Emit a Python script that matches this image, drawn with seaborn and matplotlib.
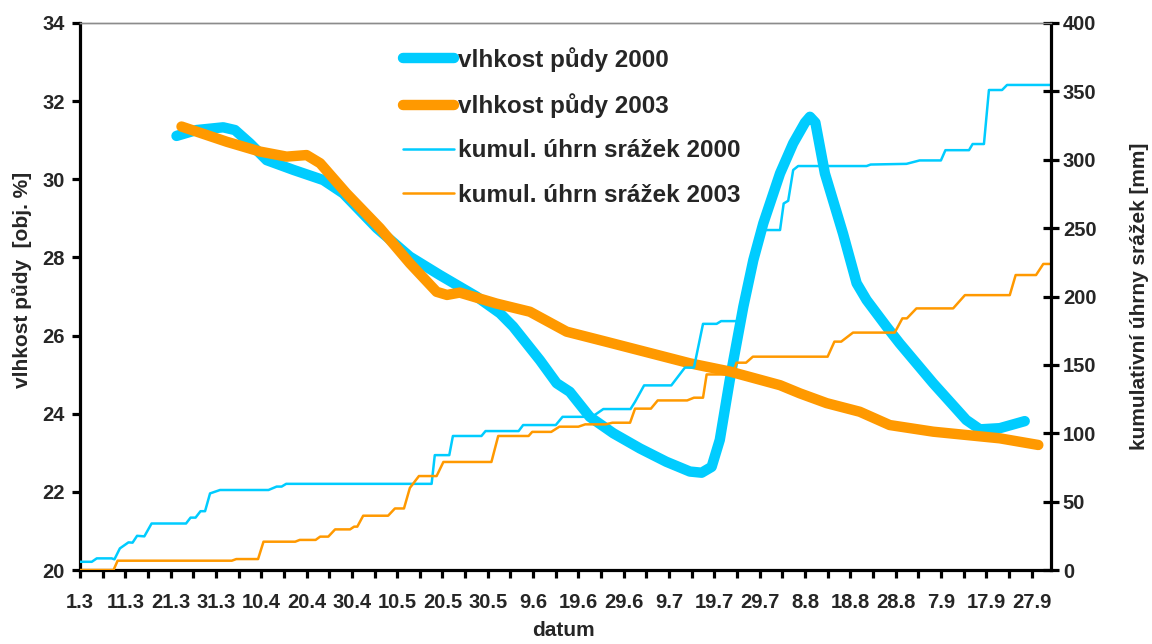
import matplotlib
matplotlib.use("Agg")
import matplotlib.pyplot as plt
import seaborn as sns
from matplotlib.ticker import MultipleLocator

# days counted from 1.3
soil2000_day = [21.3, 25.7, 31.6, 34.2, 37.5, 41.2, 47.1, 53.7, 58.1, 65.5, 72.8, 79.4,
                87.5, 92.7, 95.6, 101.5, 105.2, 108.1, 112.5, 117.7, 123.6, 129.4, 134.6,
                137.2, 139.4, 141.2, 143.4, 146.4, 148.6, 150.8, 154.5, 157.4, 160.0, 161.1,
                162.3, 164.4, 168.4, 171.4, 173.6, 178.0, 180.9, 188.3, 195.6, 198.6, 203.0, 208.5]
soil2000_val = [31.11, 31.26, 31.33, 31.26, 30.92, 30.49, 30.24, 29.98, 29.64, 28.75, 28.02, 27.55,
                27.0, 26.57, 26.23, 25.37, 24.78, 24.56, 23.92, 23.5, 23.11, 22.77, 22.52,
                22.49, 22.64, 23.33, 24.86, 26.74, 27.93, 28.87, 30.15, 30.92, 31.45, 31.6,
                31.45, 30.15, 28.61, 27.34, 26.91, 26.23, 25.8, 24.78, 23.84, 23.6, 23.63, 23.81]

soil2003_day = [22.4, 32.4, 39.7, 45.6, 50.0, 53.0, 58.8, 66.2, 72.8, 78.7, 81.0, 83.8,
                91.9, 99.3, 107.4, 116.2, 134.6, 143.4, 154.5, 158.9, 164.8, 172.1, 178.7,
                188.3, 203.0, 211.5]
soil2003_val = [31.35, 30.96, 30.71, 30.58, 30.62, 30.41, 29.64, 28.75, 27.85, 27.12, 27.04, 27.1,
                26.82, 26.61, 26.1, 25.84, 25.29, 25.08, 24.73, 24.52, 24.27, 24.05, 23.71,
                23.54, 23.37, 23.2]

rain2000_day = [0, 2.6, 3.7, 7.0, 7.6, 8.8, 10.7, 11.6, 12.6, 14.2, 15.8, 23.4, 24.4, 25.5,
                26.6, 27.6, 28.7, 30.9, 41.6, 43.4, 44.5, 45.5, 77.6, 78.3, 81.5, 82.3, 88.6,
                89.5, 96.8, 97.8, 105.0, 106.5, 113.0, 115.5, 121.5, 122.5, 124.5, 130.5,
                133.5, 135.5, 137.5, 140.5, 141.5, 145.6, 148.2, 149.7, 154.5, 155.3, 156.3,
                157.4, 158.5, 173.6, 174.5, 182.4, 185.3, 190.0, 191.0, 196.2, 197.0, 199.5,
                200.6, 203.5, 204.6, 214.3]
rain2000_mm = [6, 6, 8.5, 8.5, 7.8, 15.8, 20.2, 20, 25, 24.6, 34, 34, 38.3, 38.3,
               43, 43, 56, 58.5, 58.5, 61, 61, 63, 63, 84, 84, 98, 98,
               101.6, 101.6, 106, 106, 112, 112, 117.7, 117.7, 123, 135, 135,
               148, 148, 180, 180, 182, 182, 218, 248.6, 248.6, 268, 270,
               292.5, 295.4, 295.4, 296.5, 297, 299.5, 299.5, 307, 307, 311.5, 311.5,
               351, 351, 354.7, 354.7]

rain2003_day = [0, 7.4, 8.3, 33.5, 34.5, 39.3, 40.5, 47.5, 48.5, 52.0, 53.0, 54.8, 56.3, 59.6,
                60.5, 61.2, 62.5, 68.0, 69.5, 71.5, 72.8, 74.8, 78.7, 80.2, 90.8, 92.3, 99.0,
                99.8, 104.0, 105.8, 110.0, 111.5, 116.0, 117.5, 121.4, 122.5, 126.0, 127.5,
                134.0, 135.5, 137.5, 138.3, 144.0, 144.9, 147.0, 148.5, 165.0, 166.5, 168.0,
                170.6, 179.8, 181.5, 182.5, 184.6, 192.7, 195.3, 205.2, 206.5, 211.0, 212.6,
                214.3]
rain2003_mm = [0, 0, 6.8, 6.8, 8, 8, 20.7, 20.7, 22, 22, 24.4, 24.4, 29.7, 29.7,
               31.7, 31.7, 39.7, 39.7, 45, 45, 60, 68.7, 68.7, 79, 79, 98, 98,
               101, 101, 104.8, 104.8, 106.5, 106.5, 107.7, 107.7, 118, 118, 124,
               124, 126, 126, 143, 143, 151.6, 151.6, 156, 156, 167, 167,
               173.6, 173.6, 184, 184, 191.3, 191.3, 201, 201, 215.7, 215.7, 223.8,
               223.8]

date_ticks = list(range(0, 211, 10))
date_labels = ["1.3", "11.3", "21.3", "31.3", "10.4", "20.4", "30.4", "10.5", "20.5", "30.5",
               "9.6", "19.6", "29.6", "9.7", "19.7", "29.7", "8.8", "18.8", "28.8", "7.9",
               "17.9", "27.9"]

BLUE = "#00CCFF"
ORANGE = "#FF9900"

sns.set_theme(style="white")
plt.rcParams['font.family'] = ['Liberation Sans', 'DejaVu Sans']
plt.rcParams['font.weight'] = 'bold'
plt.rcParams['axes.labelweight'] = 'bold'

fig, ax = plt.subplots(figsize=(11.52, 6.44), dpi=100)
fig.subplots_adjust(left=80/1152, right=1051/1152, top=1-23/644, bottom=1-570/644)
ax2 = ax.twinx()

# soil moisture on the left axis
sns.lineplot(x=soil2000_day, y=soil2000_val, ax=ax, color=BLUE, linewidth=7.5,
             label="vlhkost půdy 2000", legend=False, estimator=None, sort=False,
             solid_capstyle='round', solid_joinstyle='round')
sns.lineplot(x=soil2003_day, y=soil2003_val, ax=ax, color=ORANGE, linewidth=7.5,
             label="vlhkost půdy 2003", legend=False, estimator=None, sort=False,
             solid_capstyle='round', solid_joinstyle='round')

# cumulative precipitation on the right axis
sns.lineplot(x=rain2000_day, y=rain2000_mm, ax=ax2, color=BLUE, linewidth=1.8,
             label="kumul. úhrn srážek 2000", legend=False, estimator=None, sort=False,
             solid_joinstyle='round')
sns.lineplot(x=rain2003_day, y=rain2003_mm, ax=ax2, color=ORANGE, linewidth=1.8,
             label="kumul. úhrn srážek 2003", legend=False, estimator=None, sort=False,
             solid_joinstyle='round')

ax.set_xlim(0, 214.3)
ax.set_ylim(20, 34)
ax2.set_ylim(0, 400)
ax.yaxis.set_major_locator(MultipleLocator(2))
ax2.yaxis.set_major_locator(MultipleLocator(50))
ax.set_xticks(date_ticks)
ax.set_xticklabels(date_labels)
ax.set_xticks(list(range(5, 211, 10)), minor=True)

# spines
for sp in ["left", "bottom"]:
    ax.spines[sp].set_linewidth(2.3)
    ax.spines[sp].set_color("black")
ax.spines["right"].set_visible(False)
ax.spines["top"].set_color("#8c8c8c")
ax.spines["top"].set_linewidth(1)
ax2.spines["right"].set_linewidth(2.3)
ax2.spines["right"].set_color("black")
for sp in ["left", "bottom"]:
    ax2.spines[sp].set_visible(False)
ax2.spines["top"].set_color("#8c8c8c")
ax2.spines["top"].set_linewidth(1)

ax.tick_params(axis='x', which='both', direction='out', length=5.5, width=2.3,
               color='black', labelsize=14.5, pad=11, bottom=True)
ax.tick_params(axis='y', which='major', direction='out', length=6, width=2.3,
               color='black', labelsize=14.5, pad=5, left=True)
ax2.tick_params(axis='y', which='major', direction='inout', length=11, width=2.3,
                color='black', labelsize=14.5, pad=3, right=True)
for lab in ax.get_xticklabels() + ax.get_yticklabels() + ax2.get_yticklabels():
    lab.set_fontweight('bold')

ax.set_xlabel("datum", fontsize=15, fontweight='bold')
ax.set_ylabel("vlhkost půdy  [obj. %]", fontsize=15, fontweight='bold')
ax2.set_ylabel("kumulativní úhrny srážek [mm]", fontsize=15, fontweight='bold')
ax.xaxis.set_label_coords(0.498, -0.094)
ax.yaxis.set_label_coords(-0.049, 0.53)
ax2.yaxis.set_label_coords(1.0814, 0.5)

ax.grid(False)
ax2.grid(False)

h1, l1 = ax.get_legend_handles_labels()
h2, l2 = ax2.get_legend_handles_labels()
leg = ax2.legend(h1 + h2, l1 + l2, loc='upper left', bbox_to_anchor=(403/1152, 1-47/644),
                 bbox_transform=fig.transFigure, frameon=False, fontsize=17.5,
                 handlelength=2.1, handletextpad=0.18, labelspacing=0.88,
                 borderpad=0, borderaxespad=0)
for t in leg.get_texts():
    t.set_fontweight('bold')

fig.savefig("out.png", dpi=100)
